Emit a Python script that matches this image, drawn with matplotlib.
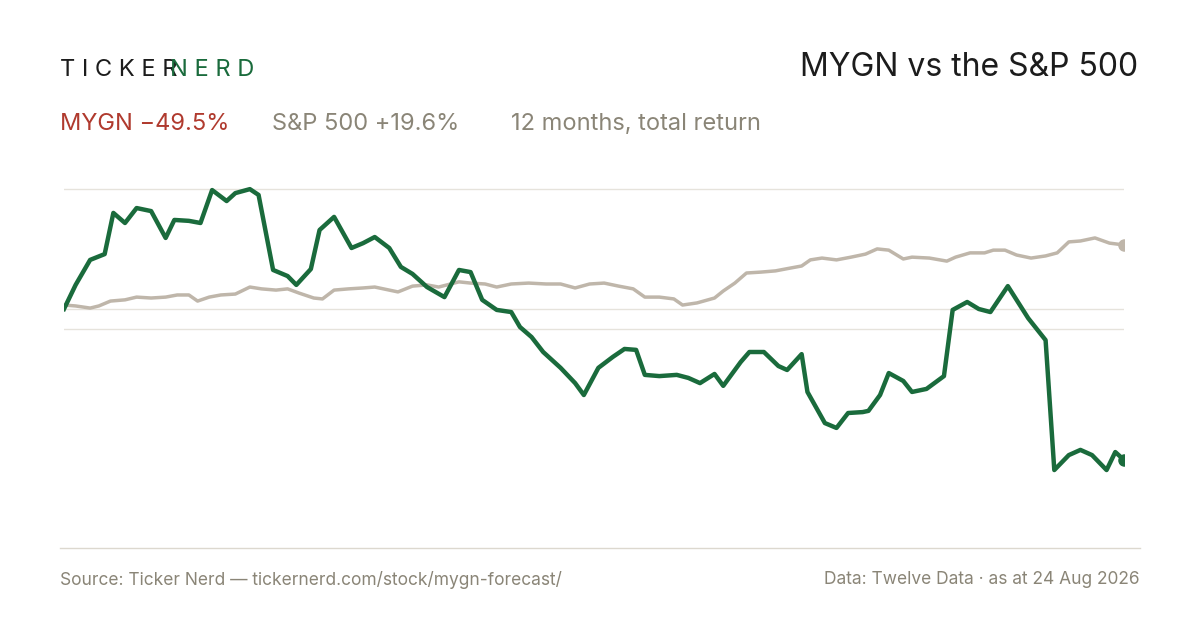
import matplotlib
matplotlib.use("Agg")
import matplotlib.pyplot as plt

mygn = [(0,0),(4,7.9),(9,16.1),(14,18.0),(17,31.5),(21,28.2),(25,33.1),(30,32.1),(35,23.3),(38,29.2),(43,28.9),(47,28.2),(51,39.0),(56,35.4),(59,38.0),(64,39.3),(67,37.4),(72,12.8),(77,10.8),(80,7.9),(85,13.1),(88,25.9),(93,30.2),(99,20.0),(103,21.6),(107,23.6),(112,20.0),(116,13.8),(120,11.5),(125,7.2),(131,3.9),(136,12.8),(140,12.1),(144,3.0),(149,-0.3),(154,-1.0),(157,-5.9),(161,-9.2),(165,-14.1),(171,-19.3),(176,-24.3),(179,-28.2),(184,-19.3),(189,-15.7),(193,-13.1),(197,-13.4),(200,-21.6),(205,-22.0),(211,-21.6),(215,-22.6),(219,-24.3),(224,-21.3),(227,-25.2),(233,-17.4),(236,-14.1),(241,-14.1),(246,-18.7),(249,-20.0),(254,-14.8),(256,-27.2),(262,-37.4),(266,-39.0),(270,-34.1),(275,-33.8),(277,-33.4),(281,-28.2),(284,-21.0),(289,-23.6),(292,-27.2),(297,-26.2),(303,-22.0),(306,-0.3),(311,2.3),(315,0.0),(319,-1.0),(325,7.5),(332,-3.0),(338,-10.2),(341,-52.8),(346,-47.9),(350,-46.2),(354,-47.9),(359,-52.8),(362,-46.9),(365,-49.5)]
spx = [(0,1.3),(4,1.0),(9,0.3),(12,1.0),(16,2.6),(21,3.0),(25,3.9),(30,3.6),(35,3.9),(39,4.6),(43,4.6),(46,2.6),(50,3.9),(54,4.6),(59,4.9),(64,7.2),(68,6.6),(73,6.2),(77,6.6),(81,5.2),(86,3.6),(89,3.3),(93,6.2),(98,6.6),(103,6.9),(107,7.2),(112,6.2),(115,5.6),(120,7.5),(125,7.9),(129,7.2),(136,8.9),(140,8.5),(145,8.2),(149,7.2),(154,8.2),(160,8.5),(166,8.2),(171,8.2),(176,6.9),(181,8.2),(186,8.5),(191,7.5),(196,6.6),(200,3.9),(205,3.9),(210,3.3),(213,1.3),(218,2.0),(224,3.6),(227,5.9),(231,8.5),(235,11.8),(240,12.1),(245,12.5),(250,13.4),(254,14.1),(257,16.1),(261,16.7),(266,16.1),(271,17.0),(276,18.0),(280,19.7),(284,19.3),(289,16.4),(292,17.0),(298,16.7),(304,15.7),(307,17.0),(312,18.4),(317,18.4),(320,19.3),(324,19.3),(328,17.7),(333,16.7),(338,17.4),(342,18.4),(346,22.0),(350,22.3),(355,23.3),(360,21.6),(365,21.0)]
grid_vals = [39.3, 0.0, -6.6]

GREEN = "#1a6b3c"; GREY = "#bfb6aa"; RED = "#b03a2e"; TXT = "#8a8577"
plt.rcParams['font.family'] = ['Inter', 'DejaVu Sans']
fig = plt.figure(figsize=(12, 6.3), dpi=100)
W, H = 1200, 630
ax = fig.add_axes([64/W, 1-530/H, 1060/W, 360/H])
ppp = 3.05
ax.set_ylim((309-530)/ppp, (309-170)/ppp)
ax.set_xlim(0, 365)
for g in grid_vals:
    ax.axhline(g, color="#e6e3dc", lw=1, zorder=0)
mx, my = zip(*mygn); sx, sy = zip(*spx)
ax.plot(sx, sy, color=GREY, lw=2.5, solid_joinstyle='round')
ax.plot(mx, my, color=GREEN, lw=3.2, solid_joinstyle='round')
ax.plot(sx[-1], sy[-1], 'o', color=GREY, ms=8)
ax.plot(mx[-1], my[-1], 'o', color=GREEN, ms=8)
ax.axis('off')

fig.text(60/W, 1-70/H, "T I C K E R", fontsize=17, color="#1c1c1c", va='center')
fig.text(170/W, 1-70/H, "N E R D", fontsize=17, color=GREEN, va='center')
fig.text(1138/W, 1-67/H, "MYGN vs the S&P 500", fontsize=23, color="#1c1c1c", ha='right', va='center')
fig.text(60/W, 1-124/H, "MYGN \u221249.5%", fontsize=17, color=RED, va='center')
fig.text(272/W, 1-124/H, "S&P 500 +19.6%", fontsize=17, color=TXT, va='center')
fig.text(511/W, 1-124/H, "12 months, total return", fontsize=17, color=TXT, va='center')
fig.add_artist(plt.Line2D([60/W, 1140/W], [1-548/H]*2, color="#dcd8cf", lw=1))
fig.text(60/W, 1-580/H, "Source: Ticker Nerd \u2014 tickernerd.com/stock/mygn-forecast/", fontsize=12.5, color=TXT, va='center')
fig.text(1140/W, 1-580/H, "Data: Twelve Data \u00b7 as at 24 Aug 2026", fontsize=12.5, color=TXT, va='center', ha='right')
fig.savefig("out.png", dpi=100, facecolor='white')
